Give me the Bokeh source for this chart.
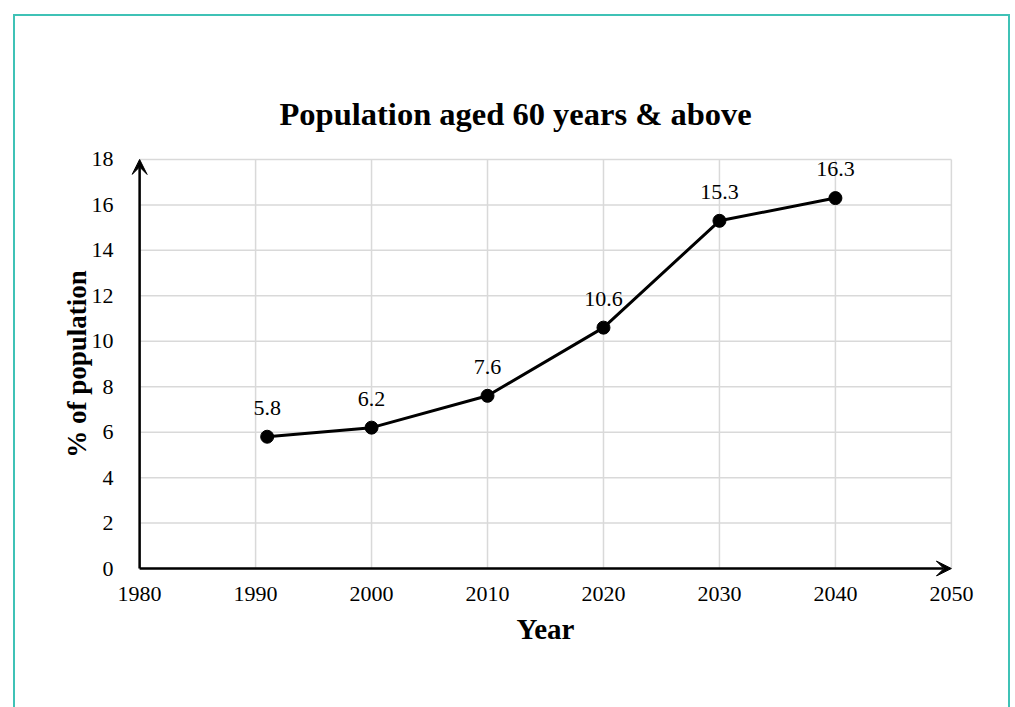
from bokeh.plotting import figure
from bokeh.models import FixedTicker, Arrow, VeeHead, Range1d, ColumnDataSource
from bokeh.core.properties import value
from bokeh.embed import file_html
from bokeh.resources import INLINE

years = [1991, 2000, 2010, 2020, 2030, 2040]
share = [5.8, 6.2, 7.6, 10.6, 15.3, 16.3]
labels = ["5.8", "6.2", "7.6", "10.6", "15.3", "16.3"]
x_ticks = [1980, 1990, 2000, 2010, 2020, 2030, 2040, 2050]
y_ticks = [0, 2, 4, 6, 8, 10, 12, 14, 16, 18]

FONT = "Liberation Serif"
PADX = 0.7   # small padding so the arrow heads are not clipped
PADY = 0.35

p = figure(width=997, height=693, margin=(14, 0, 0, 13),
           output_backend="svg", toolbar_location=None,
           x_range=Range1d(x_ticks[0] - PADX, x_ticks[-1] + PADX),
           y_range=Range1d(y_ticks[0] - PADY, y_ticks[-1] + PADY),
           min_border_left=116, min_border_right=53,
           min_border_top=135, min_border_bottom=133,
           styles={"border": "2px solid #3fc2b6", "border-bottom": "none"})

p.title.text = "Population aged 60 years & above"
p.title.text_font = FONT
p.title.text_font_size = "32.5px"
p.title.text_font_style = "bold"
p.title.text_color = "black"
p.title.align = "left"
p.title.offset = 148
p.title.standoff = 39

p.outline_line_color = None
p.background_fill_color = "white"
p.border_fill_color = "white"
p.xgrid.visible = False
p.ygrid.visible = False

for ax in (p.xaxis[0], p.yaxis[0]):
    ax.axis_line_color = None
    ax.major_tick_line_color = None
    ax.minor_tick_line_color = None
    ax.major_label_text_font = FONT
    ax.major_label_text_font_size = "22px"
    ax.major_label_text_color = "black"
    ax.axis_label_text_font = FONT
    ax.axis_label_text_font_style = "bold"
    ax.axis_label_text_color = "black"

p.xaxis[0].ticker = FixedTicker(ticks=x_ticks)
p.yaxis[0].ticker = FixedTicker(ticks=y_ticks)
p.xaxis[0].axis_label = "Year"
p.yaxis[0].axis_label = "% of population"
p.xaxis[0].axis_label_text_font_size = "29px"
p.yaxis[0].axis_label_text_font_size = "27px"
p.xaxis[0].major_label_standoff = 4
p.yaxis[0].major_label_standoff = 12
p.xaxis[0].axis_label_standoff = 9
p.yaxis[0].axis_label_standoff = -3

# grid lines, limited to the tick range
n_x = len(x_ticks)
n_y = len(y_ticks)
p.segment(x0=x_ticks, x1=x_ticks, y0=[y_ticks[0]] * n_x, y1=[y_ticks[-1]] * n_x,
          line_color="#d9d9d9", line_width=1.5)
p.segment(x0=[x_ticks[0]] * n_y, x1=[x_ticks[-1]] * n_y, y0=y_ticks, y1=y_ticks,
          line_color="#d9d9d9", line_width=1.5)

# axes with arrow heads
p.add_layout(Arrow(x_start=x_ticks[0], y_start=y_ticks[0], x_end=x_ticks[-1], y_end=y_ticks[0],
                   line_color="black", line_width=2.5,
                   end=VeeHead(size=15, fill_color="black", line_color="black")))
p.add_layout(Arrow(x_start=x_ticks[0], y_start=y_ticks[0], x_end=x_ticks[0], y_end=y_ticks[-1],
                   line_color="black", line_width=2.5,
                   end=VeeHead(size=15, fill_color="black", line_color="black")))

src = ColumnDataSource(dict(x=years, y=share, t=labels))
p.line("x", "y", source=src, line_color="black", line_width=3)
p.scatter("x", "y", source=src, size=13, fill_color="black", line_color="black")
p.text("x", "y", text="t", source=src, text_font=value(FONT), text_font_size="22px",
       text_align="center", text_baseline="bottom", y_offset=-22, text_color="black")

open("out.html", "w").write(file_html(p, INLINE))
